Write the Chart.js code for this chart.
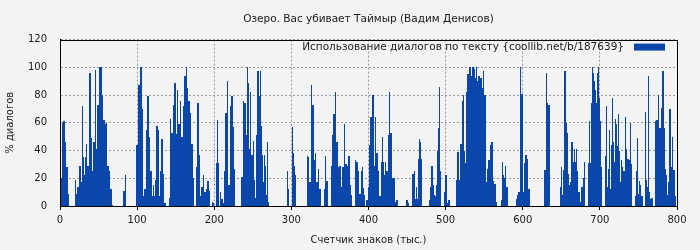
<!DOCTYPE html>
<html>
<head>
<meta charset="utf-8">
<script src="https://cdn.jsdelivr.net/npm/chart.js@4/dist/chart.umd.min.js"></script>
<style>
  html, body { margin: 0; padding: 0; background: #f3f3f3; }
  #wrap { width: 700px; height: 250px; }
</style>
</head>
<body>
<div id="wrap"><canvas id="chart" width="700" height="250"></canvas></div>
<script>
// % диалогов на каждую тысячу знаков, по кускам в 100 тыс.
const pct000 = [
  20,20,60,60,61,61,46,37,28,28, 9,0,0,0,0,0,0,0,0,9,
  19,9,14,14,29,29,29,17,56,72, 35,22,22,35,45,29,29,87,96,96,
  49,1,25,46,46,98,90,41,73,73, 62,100,100,100,80,51,62,62,59,50,
  60,29,29,22,25,12,12,1,0,0, 0,0,0,0,0,0,0,0,0,0,
  0,0,11,11,22,0,0,0,0,0, 0,0,0,0,0,0,0,0,0,44
];
const pct100 = [
  44,87,85,87,100,100,70,7,6,12, 12,15,55,79,79,40,50,25,25,7,
  15,7,7,19,47,58,58,55,7,7, 25,48,48,23,5,2,2,0,0,0,
  0,6,37,63,53,53,43,73,89,89, 52,43,84,59,59,76,60,50,50,39,
  72,94,94,100,81,85,76,76,60,67, 45,45,20,0,0,0,28,66,74,74,
  37,0,7,14,14,22,11,10,10,12, 8,18,18,11,0,0,0,3,2,2
];
const pct200 = [
  0,0,31,62,31,31,0,5,10,5, 5,2,0,25,67,67,90,53,15,15,
  32,72,79,79,57,27,1,0,0,0, 0,0,0,0,0,21,21,76,65,74,
  74,51,100,89,89,41,82,41,37,37, 47,19,6,6,51,96,97,97,79,97,
  58,58,37,17,37,37,29,8,46,46, 3,0,0,0,0,0,0,0,0,0,
  0,0,0,0,0,0,0,0,0,0, 0,0,0,0,25,12,0,0,0,0
];
const pct300 = [
  0,57,38,29,29,22,0,0,0,0, 0,0,0,0,0,0,0,0,0,0,
  36,35,21,17,17,65,87,73,73,33, 38,11,17,17,27,19,12,12,0,0,
  0,0,12,32,36,18,18,0,0,0, 0,0,29,51,66,66,60,82,46,46,
  28,15,29,29,14,22,28,28,59,14, 30,30,29,22,36,36,15,8,0,0,
  0,0,0,33,32,32,16,25,9,9, 25,28,13,13,8,0,0,4,4,14
];
const pct400 = [
  29,44,64,64,69,80,80,29,64,41, 38,38,25,0,7,7,32,50,32,32,
  22,16,32,25,25,51,61,82,53,53, 20,20,20,20,0,3,4,4,0,0,
  0,0,0,0,0,0,0,0,0,4, 4,2,0,0,0,0,0,23,23,25,
  5,14,14,5,34,48,48,46,34,0, 0,0,0,0,0,0,0,0,0,4,
  14,29,29,14,15,8,7,7,15,40, 56,86,64,25,0,0,0,0,10,22
];
const pct500 = [
  22,5,2,4,4,0,0,0,0,0, 0,0,0,19,19,39,39,19,39,45,
  45,76,80,40,40,31,58,82,95,95, 100,100,94,94,100,100,99,99,92,94,
  100,90,94,94,90,92,92,85,97,80, 80,80,17,27,27,33,33,37,44,46,
  46,18,0,16,16,3,0,0,0,0, 0,0,4,32,22,20,20,29,14,14,
  0,0,0,0,0,0,0,0,0,0, 0,5,6,8,10,10,47,100,81,81
];
const pct600 = [
  10,10,31,37,37,25,34,12,12,0, 0,0,0,0,0,0,0,0,0,0,
  0,0,0,0,0,0,0,0,26,26, 96,74,74,73,73,0,0,0,0,0,
  0,0,0,0,0,0,0,0,14,28, 8,8,26,56,97,97,60,53,23,23,
  15,17,33,46,46,32,41,32,32,41, 25,8,10,10,3,10,14,14,20,32,
  25,0,0,0,31,31,61,31,74,74, 100,96,90,90,84,74,96,100,100,78
];
const pct700 = [
  61,28,28,0,0,0,0,36,72,14, 27,27,55,12,44,44,78,46,32,32,
  63,59,43,43,66,40,17,33,33,28, 25,25,64,64,41,34,34,34,33,60,
  30,30,0,0,0,0,7,25,49,9, 9,18,15,7,7,7,0,0,68,55,
  19,14,14,94,10,5,6,6,0,0, 0,0,61,62,62,58,80,56,56,71,
  86,97,97,56,27,22,22,8,17,52, 70,70,28,50,22,26,26,7,0,0
];

const dialogPct = [].concat(pct000, pct100, pct200, pct300, pct400, pct500, pct600, pct700);
const titleText = 'Озеро. Вас убивает Таймыр (Вадим Денисов)';
const seriesLabel = 'Использование диалогов по тексту {coollib.net/b/187639}';
const xTitle = 'Счетчик знаков (тыс.)';
const yTitle = '% диалогов';
const xMax = 800, xStep = 100;
const yMax = 120, yStep = 20;

const barColor = '#0b46aa';
const textColor = '#1a1a1a';
const gridColor = '#9c9c9c';

Chart.defaults.font.family = 'DejaVu Sans';
Chart.defaults.font.size = 10;
Chart.defaults.color = textColor;

// фон, рамка и легенда внутри графика
const decor = {
  id: 'decor',
  beforeDraw(chart) {
    const c = chart.ctx;
    c.save();
    c.fillStyle = '#f3f3f3';
    c.fillRect(0, 0, chart.width, chart.height);
    c.restore();
  },
  // столбики уже пикселя: края на целых пикселях, минимум 1 px,
  // совпавшие в одном пикселе сливаются (видна большая высота)
  beforeDatasetsDraw(chart) {
    const xs = chart.scales.x;
    chart.getDatasetMeta(0).data.forEach((el, i) => {
      const l = Math.round(xs.getPixelForValue(i));
      const r = Math.max(l + 1, Math.round(xs.getPixelForValue(i + 1)));
      el.x = (l + r) / 2;
      el.width = r - l;
      el.y = Math.round(el.y);
      el.base = Math.round(el.base);
    });
  },
  afterDatasetsDraw(chart) {
    const c = chart.ctx, a = chart.chartArea;
    c.save();
    c.strokeStyle = '#000';
    c.lineWidth = 1;
    c.strokeRect(Math.round(a.left) + 0.5, Math.round(a.top) + 0.5,
      Math.round(a.right - a.left), Math.round(a.bottom - a.top));
    // легенда
    const ds = chart.data.datasets[0];
    const boxW = 31, boxH = 7;
    const boxX = a.right - 12 - boxW, midY = a.top + 7.5;
    c.fillStyle = ds.backgroundColor;
    c.fillRect(boxX, midY - boxH / 2, boxW, boxH);
    c.fillStyle = textColor;
    c.font = '10.5px "DejaVu Sans"';
    c.textAlign = 'right';
    c.textBaseline = 'middle';
    c.fillText(ds.label, boxX - 10, midY);
    c.restore();
  }
};

new Chart(document.getElementById('chart'), {
  type: 'bar',
  data: {
    datasets: [{
      label: seriesLabel,
      data: dialogPct.map((v, i) => ({ x: i + 0.5, y: v })),
      backgroundColor: barColor,
      borderWidth: 0,
      inflateAmount: 0,
      barPercentage: 1,
      categoryPercentage: 1
    }]
  },
  options: {
    responsive: false,
    animation: false,
    layout: { padding: { left: 0, right: 23, top: 0, bottom: 0 } },
    plugins: {
      legend: { display: false },
      tooltip: { enabled: false },
      title: {
        display: true,
        text: titleText,
        fullSize: false,
        color: textColor,
        font: { size: 10.5, weight: 'normal' },
        padding: { top: 13, bottom: 14 }
      }
    },
    scales: {
      x: {
        type: 'linear',
        min: 0,
        max: xMax,
        offset: false,
        ticks: { stepSize: xStep, padding: 4, color: textColor, maxRotation: 0 },
        grid: { color: gridColor, tickColor: '#000', tickLength: 4, offset: false },
        border: { color: '#000', dash: [2, 2] },
        title: { display: true, text: xTitle, color: textColor, padding: { top: 4, bottom: 4 } },
        afterFit(s) { s.height = 44; }
      },
      y: {
        min: 0,
        max: yMax,
        ticks: { stepSize: yStep, padding: 13, color: textColor },
        grid: { color: gridColor, drawTicks: false },
        border: { color: '#000', dash: [2, 2] },
        title: { display: true, text: yTitle, color: textColor, padding: { top: 4, bottom: 4 } },
        afterFit(s) { s.width = 60; }
      }
    }
  },
  plugins: [decor]
});
</script>
</body>
</html>
